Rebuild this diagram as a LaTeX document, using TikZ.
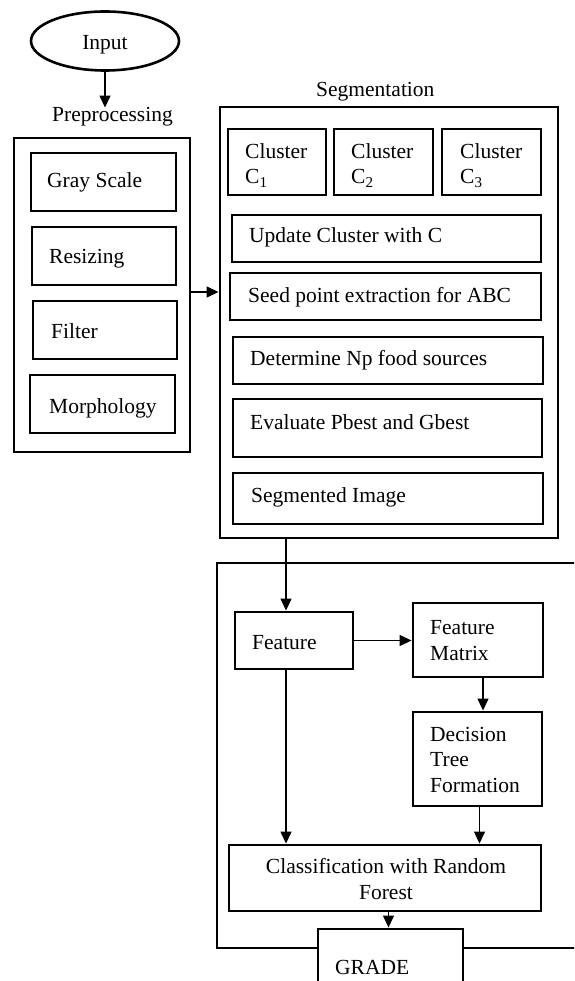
\documentclass[tikz,border=0pt]{standalone}
\usepackage{fontspec}
\setmainfont{Liberation Serif}
\usetikzlibrary{shapes.geometric,arrows.meta}
\tikzset{
  box/.style={draw, line width=2.9pt, inner sep=0pt, fill=white},
  lbl/.style={inner sep=0pt, anchor=base west, align=left,
              font=\fontsize{21.5}{25.5}\selectfont},
  arr/.style={line width=1.3pt, -{Triangle[width=11pt,length=12pt]}},
}
% box with corners (x1,y1) and (x2,y2), y measured downwards
\newcommand\bx[5]{\node[box, minimum width={#4-#2}, minimum height={#5-#3}]
  (#1) at ({(#2+#4)/2},{(#3+#5)/2}) {};}
\begin{document}
\begin{tikzpicture}[x=1pt,y=-1pt]
\useasboundingbox (0,0) rectangle (574,981);
\clip (0,0) rectangle (574,981);

% input
\node[ellipse, draw, line width=2.6pt, minimum width=148pt, minimum height=59pt,
      inner sep=0pt] (input) at (105,41) {};
\node[lbl, anchor=base] (tin) at (105,50) {Input};
\node[lbl] (tpre) at (52,122) {Preprocessing};
\draw[arr] (input.south) -- (input.south |- tpre.north);

% preprocessing
\bx{pre}{14}{138}{190}{452}
\bx{gray}{31}{153}{176}{211}
\bx{resize}{32}{227}{176}{285}
\bx{filter}{33}{301}{177}{359}
\bx{morph}{30}{375}{175}{433}
\node[lbl] (tgray) at (47,188) {Gray Scale};
\node[lbl] (tresize) at (49,264) {Resizing};
\node[lbl] (tfilter) at (51,338) {Filter};
\node[lbl] (tmorph) at (49,413) {Morphology};

% segmentation
\node[lbl] (tseg) at (316,97) {Segmentation};
\bx{seg}{220}{107}{558}{538}
\bx{ca}{228}{129}{326}{195}
\bx{cb}{334}{129}{433}{195}
\bx{cc}{442}{129}{541}{195}
\bx{update}{232}{215}{541}{262}
\bx{seed}{230}{273}{541}{320}
\bx{determine}{233}{337}{543}{384}
\bx{evaluate}{233}{399}{542}{457}
\bx{segimg}{233}{473}{543}{524}
% multi-line labels are placed by the baseline of their last line
\node[lbl] (tca) at (245,184) {Cluster\\C\textsubscript{1}};
\node[lbl] (tcb) at (351,184) {Cluster\\C\textsubscript{2}};
\node[lbl] (tcc) at (460,184) {Cluster\\C\textsubscript{3}};
\node[lbl] (tupdate) at (249,243) {Update Cluster with C};
\node[lbl] (tseed) at (248,302) {Seed point extraction for ABC};
\node[lbl] (tdet) at (250,365) {Determine Np food sources};
\node[lbl] (teval) at (250,429) {Evaluate Pbest and Gbest};
\node[lbl] (tsegimg) at (251,502) {Segmented Image};

\draw[arr] ([yshift=3pt]pre.east) -- ([yshift=3pt]pre.east -| seg.west);

% classification stage
\bx{cls}{217}{563}{600}{948}
\bx{feat}{235}{612}{353}{669}
\bx{fm}{413}{603}{543}{677}
\bx{dec}{413}{712}{542}{806}
\bx{class}{229}{845}{541}{911}
\bx{grade}{318}{929}{463}{1010}
\node[lbl] (tfeat) at (252,649) {Feature};
\node[lbl] (tfm) at (430,660) {Feature\\Matrix};
\node[lbl] (tdec) at (430,792) {Decision\\Tree\\Formation};
\node[lbl, anchor=base, align=center] (tclass) at (386,899) {Classification with Random\\Forest};
\node[lbl] (tgrade) at (335,974) {GRADE};

\draw[arr] ([xshift=-8pt]feat.north |- seg.south) -- ([xshift=-8pt]feat.north);
\draw[arr] (feat.east) -- (feat.east -| fm.west);
\draw[arr] ([xshift=5pt]fm.south) -- ([xshift=5pt]fm.south |- dec.north);
\draw[arr] ([xshift=2pt]dec.south) -- ([xshift=2pt]dec.south |- class.north);
\draw[arr] ([xshift=-8pt]feat.south) -- ([xshift=-8pt]feat.south |- class.north);
\draw[arr] ([xshift=-2pt]grade.north |- class.south) -- ([xshift=-2pt]grade.north);
\end{tikzpicture}
\end{document}
